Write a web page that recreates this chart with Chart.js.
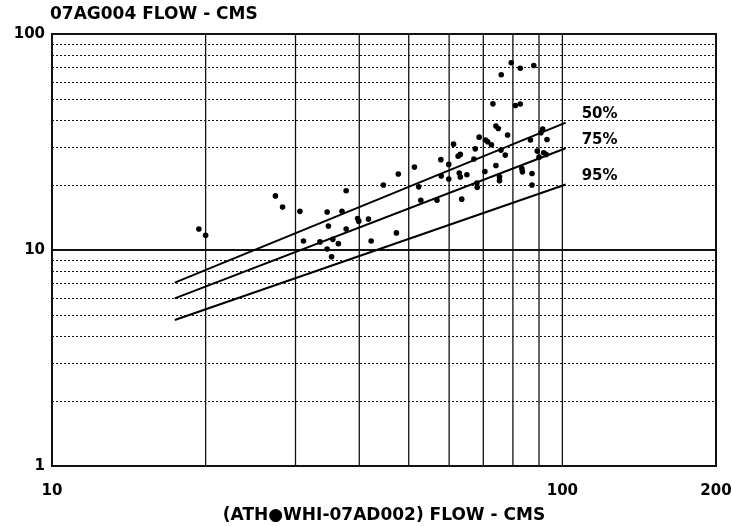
<!DOCTYPE html>
<html><head><meta charset="utf-8">
<script src="https://cdn.jsdelivr.net/npm/chart.js@4/dist/chart.umd.min.js"></script>
<style>html,body{margin:0;padding:0;background:#fff;}#wrap{width:732px;height:526px;}</style>
</head><body><div id="wrap"><canvas id="c" width="732" height="526"></canvas></div>
<script>
const chartTitle = '07AG004 FLOW - CMS';
const xAxisTitle = '(ATH\u25CFWHI-07AD002) FLOW - CMS';
const xTickLabels = [10, 100, 200];
const yTickLabels = [1, 10, 100];
const xGridValues = [20, 30, 40, 50, 60, 70, 80, 90, 100];
const yMinorGridValues = [2, 3, 4, 5, 6, 7, 8, 9, 20, 30, 40, 50, 60, 70, 80, 90];
const yMajorGridValues = [10];

const obsX = [19.4, 20.0, 27.4, 28.3, 30.6, 31.1, 33.5, 34.6, 34.8, 34.6,
  35.3, 35.5, 36.4, 37.0, 37.7, 37.7, 39.7, 39.9, 41.7, 42.2,
  44.6, 47.3, 47.7, 51.3, 52.3, 52.8, 56.8, 57.8, 57.9, 59.9,
  59.9, 61.2, 62.5, 63.1, 62.8, 63.1, 63.5, 65.0, 67.1, 67.5,
  68.0, 68.1, 68.7, 70.5, 70.7, 71.4, 72.6, 74.1, 75.3, 75.3,
  75.8, 77.3, 73.1, 75.9, 79.4, 82.7, 87.9, 80.9, 82.7, 74.1,
  74.9, 78.1, 83.3, 83.5, 87.2, 87.2, 86.6, 89.3, 90.0, 91.5,
  90.8, 93.3, 91.9, 92.9];
const obsY = [12.5, 11.7, 17.8, 15.8, 15.1, 11.0, 10.9, 15.0, 12.9, 10.1,
  9.3, 11.2, 10.7, 15.1, 18.8, 12.5, 14.0, 13.6, 13.9, 11.0,
  20.0, 12.0, 22.5, 24.2, 19.6, 17.0, 17.0, 26.2, 22.0, 24.9,
  21.3, 30.9, 27.2, 27.7, 22.7, 21.8, 17.2, 22.3, 26.4, 29.4,
  20.4, 19.5, 33.3, 23.1, 32.3, 31.7, 30.7, 24.6, 21.8, 20.9,
  29.0, 27.5, 47.5, 64.8, 73.6, 69.4, 71.5, 46.7, 47.4, 37.5,
  36.5, 34.1, 23.8, 23.0, 22.6, 20.0, 32.3, 28.7, 26.9, 36.3,
  34.9, 32.5, 28.2, 27.7];

const lineX = [17.4, 101.5];
const line50 = [7.06, 38.9];
const line75 = [5.97, 29.6];
const line95 = [4.74, 20.1];
const lineLabels = ['50%', '75%', '95%'];

const FONT = 'DejaVu Sans';

const gridPlugin = {
  id: 'gridPlugin',
  beforeDatasetsDraw(chart) {
    const {ctx, chartArea: a, scales: {x, y}} = chart;
    ctx.save();
    ctx.strokeStyle = '#111';
    ctx.lineWidth = 1;
    ctx.setLineDash([2, 2]);
    yMinorGridValues.forEach(v => {
      const py = Math.round(y.getPixelForValue(v)) + 0.5;
      ctx.beginPath(); ctx.moveTo(a.left, py); ctx.lineTo(a.right, py); ctx.stroke();
    });
    ctx.setLineDash([]);
    ctx.lineWidth = 1.3;
    xGridValues.forEach(v => {
      const px = x.getPixelForValue(v);
      ctx.beginPath(); ctx.moveTo(px, a.top); ctx.lineTo(px, a.bottom); ctx.stroke();
    });
    ctx.lineWidth = 2;
    yMajorGridValues.forEach(v => {
      const py = y.getPixelForValue(v);
      ctx.beginPath(); ctx.moveTo(a.left, py); ctx.lineTo(a.right, py); ctx.stroke();
    });
    ctx.lineWidth = 2;
    ctx.strokeRect(a.left, a.top, a.right - a.left, a.bottom - a.top);
    ctx.restore();
  },
  afterDatasetsDraw(chart) {
    const {ctx, scales: {x, y}} = chart;
    ctx.save();
    ctx.fillStyle = '#000';
    ctx.font = 'bold 17px "' + FONT + '"';
    ctx.textBaseline = 'middle';
    ctx.textAlign = 'left';
    ctx.fillText(chartTitle, 50, 15);
    ctx.font = 'bold 15px "' + FONT + '"';
    const ends = [line50[1], line75[1], line95[1]];
    ends.forEach((v, i) => {
      const px = x.getPixelForValue(lineX[1]) + 16;
      const py = y.getPixelForValue(v) - 8;
      ctx.fillText(lineLabels[i], px, py);
    });
    ctx.restore();
  }
};

const pts = obsX.map((v, i) => ({x: v, y: obsY[i]}));
const mk = arr => lineX.map((v, i) => ({x: v, y: arr[i]}));
const lineStyle = {type: 'line', borderColor: '#000', borderWidth: 2, pointRadius: 0, fill: false, tension: 0};

new Chart(document.getElementById('c'), {
  type: 'scatter',
  data: {
    datasets: [
      {data: pts, pointRadius: 2.8, pointBackgroundColor: '#000', pointBorderWidth: 0, backgroundColor: '#000'},
      Object.assign({data: mk(line50)}, lineStyle),
      Object.assign({data: mk(line75)}, lineStyle),
      Object.assign({data: mk(line95)}, lineStyle)
    ]
  },
  options: {
    responsive: false,
    animation: false,
    devicePixelRatio: 1,
    layout: {padding: {top: 34, right: 16, left: 0, bottom: 0}},
    plugins: {legend: {display: false}, tooltip: {enabled: false}},
    scales: {
      x: {
        type: 'logarithmic', min: 10, max: 200,
        afterBuildTicks: s => { s.ticks = xTickLabels.map(v => ({value: v})); },
        afterFit: s => { s.height = 60; s.paddingLeft = 0; s.paddingRight = 0; },
        ticks: {callback: v => String(v), color: '#000', padding: 16, maxRotation: 0, autoSkip: false,
          font: {family: FONT, size: 15, weight: 'bold'}},
        grid: {display: false, drawTicks: false},
        border: {display: false},
        title: {display: true, text: xAxisTitle, color: '#000', padding: {top: 0, bottom: 0},
          font: {family: FONT, size: 17, weight: 'bold'}}
      },
      y: {
        type: 'logarithmic', min: 1, max: 100,
        afterBuildTicks: s => { s.ticks = yTickLabels.map(v => ({value: v})); },
        afterFit: s => { s.width = 52; s.paddingTop = 0; s.paddingBottom = 0; },
        ticks: {callback: v => String(v), color: '#000', padding: 7, autoSkip: false,
          font: {family: FONT, size: 15, weight: 'bold'}},
        grid: {display: false, drawTicks: false},
        border: {display: false}
      }
    }
  },
  plugins: [gridPlugin]
});
</script></body></html>
